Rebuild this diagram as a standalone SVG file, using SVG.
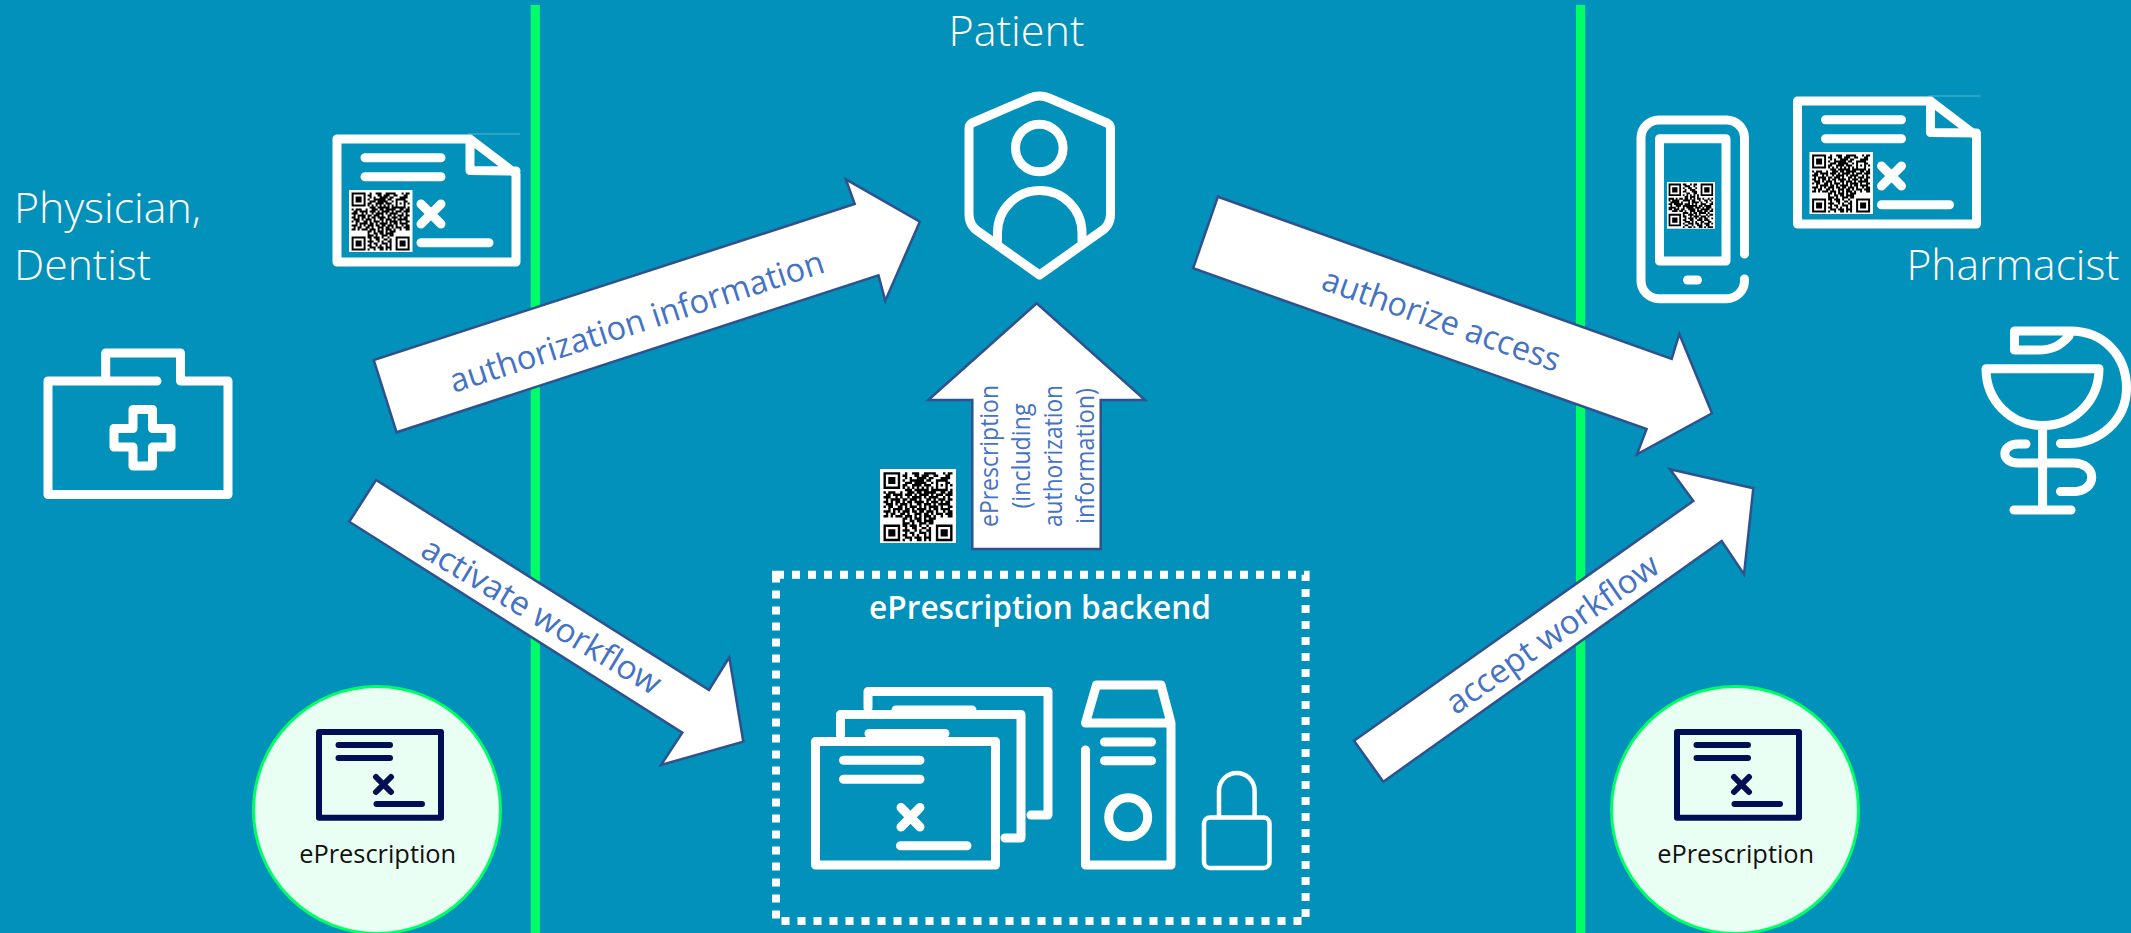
<svg xmlns="http://www.w3.org/2000/svg" width="2131" height="933" viewBox="0 0 2131 933">
<style>
text{font-family:"Open Sans","Noto Sans","Liberation Sans",sans-serif}
.ic{fill:none;stroke:#fff;stroke-width:9;stroke-linejoin:round;stroke-linecap:round}
.nv{fill:none;stroke:#000f55;stroke-width:6;stroke-linejoin:round;stroke-linecap:round}
.big{fill:#fff;font-size:43px;font-weight:300}
.arrow{fill:#fff;stroke:#2f528f;stroke-width:2.5}
.lbl{fill:#4472c4;font-size:33px;text-anchor:middle}
.vl{fill:#4472c4;font-size:26px;text-anchor:middle}
.sep{fill:#00ff66}
.circ{fill:#eafff3;stroke:#00ff66;stroke-width:3}
.cap{fill:#111;font-size:25px;text-anchor:middle}
.qr{fill:none;stroke:#000;stroke-width:1.02}
</style>
<defs>
<path id="qa" class="qr" d="M0 .5h7M9 .5h1M12 .5h3M17 .5h5M25 .5h1M27 .5h2M0 1.5h1M6 1.5h1M8 1.5h2M13 1.5h2M16 1.5h3M21 1.5h2M26 1.5h2M0 2.5h1M2 2.5h3M6 2.5h1M9 2.5h1M11 2.5h1M14 2.5h4M19 2.5h2M24 2.5h4M0 3.5h1M2 3.5h3M6 3.5h1M8 3.5h1M11 3.5h6M18 3.5h2M22 3.5h5M0 4.5h1M2 4.5h3M6 4.5h1M9 4.5h3M13 4.5h5M20 4.5h1M22 4.5h1M26 4.5h2M0 5.5h1M6 5.5h1M8 5.5h2M12 5.5h4M17 5.5h3M22 5.5h1M24 5.5h1M26 5.5h1M28 5.5h1M0 6.5h7M8 6.5h1M10 6.5h1M12 6.5h1M14 6.5h1M16 6.5h1M18 6.5h1M20 6.5h1M22 6.5h1M26 6.5h1M9 7.5h3M13 7.5h6M20 7.5h2M22 7.5h5M28 7.5h1M0 8.5h1M2 8.5h3M7 8.5h1M10 8.5h3M14 8.5h2M17 8.5h5M24 8.5h2M27 8.5h2M1 9.5h2M4 9.5h4M9 9.5h3M13 9.5h1M15 9.5h4M20 9.5h1M22 9.5h3M26 9.5h3M0 10.5h3M5 10.5h1M7 10.5h1M10 10.5h1M12 10.5h4M17 10.5h1M19 10.5h4M25 10.5h1M27 10.5h1M1 11.5h1M3 11.5h4M8 11.5h2M11 11.5h3M15 11.5h1M18 11.5h2M21 11.5h1M23 11.5h3M27 11.5h2M0 12.5h2M3 12.5h1M5 12.5h2M8 12.5h1M10 12.5h2M13 12.5h4M18 12.5h1M20 12.5h3M24 12.5h1M26 12.5h2M1 13.5h3M5 13.5h1M7 13.5h3M11 13.5h1M14 13.5h2M17 13.5h3M21 13.5h1M23 13.5h5M0 14.5h1M2 14.5h2M6 14.5h2M9 14.5h1M11 14.5h3M15 14.5h1M17 14.5h1M19 14.5h4M24 14.5h1M27 14.5h2M2 15.5h1M4 15.5h4M9 15.5h2M12 15.5h1M14 15.5h4M19 15.5h1M21 15.5h2M24 15.5h4M0 16.5h3M4 16.5h1M6 16.5h1M8 16.5h3M12 16.5h2M15 16.5h2M18 16.5h3M22 16.5h1M25 16.5h1M27 16.5h2M1 17.5h1M3 17.5h2M7 17.5h2M10 17.5h1M13 17.5h3M17 17.5h2M20 17.5h1M22 17.5h3M26 17.5h3M0 18.5h2M3 18.5h1M5 18.5h3M9 18.5h3M13 18.5h1M15 18.5h1M17 18.5h3M21 18.5h1M24 18.5h1M27 18.5h2M8 19.5h2M11 19.5h1M13 19.5h3M17 19.5h1M19 19.5h3M8 20.5h1M11 20.5h2M14 20.5h2M17 20.5h4M8 21.5h3M12 21.5h1M15 21.5h3M19 21.5h2M0 22.5h7M8 22.5h2M11 22.5h3M15 22.5h1M18 22.5h1M22 22.5h7M0 23.5h1M6 23.5h1M9 23.5h1M12 23.5h2M16 23.5h2M19 23.5h1M22 23.5h1M28 23.5h1M0 24.5h1M2 24.5h3M6 24.5h1M8 24.5h3M13 24.5h1M15 24.5h1M18 24.5h2M22 24.5h1M24 24.5h3M28 24.5h1M0 25.5h1M2 25.5h3M6 25.5h1M9 25.5h1M11 25.5h2M15 25.5h3M19 25.5h1M22 25.5h1M24 25.5h3M28 25.5h1M0 26.5h1M2 26.5h3M6 26.5h1M8 26.5h2M12 26.5h1M14 26.5h1M17 26.5h1M19 26.5h1M22 26.5h1M24 26.5h3M28 26.5h1M0 27.5h1M6 27.5h1M9 27.5h3M13 27.5h3M17 27.5h3M22 27.5h1M28 27.5h1M0 28.5h7M8 28.5h1M11 28.5h1M14 28.5h2M17 28.5h1M19 28.5h1M22 28.5h7"/>
<path id="qb" class="qr" d="M0 .5h7M8 .5h2M12 .5h1M14 .5h2M18 .5h7M0 1.5h1M6 1.5h1M9 1.5h3M14 1.5h1M18 1.5h1M24 1.5h1M0 2.5h1M2 2.5h3M6 2.5h1M8 2.5h1M11 2.5h2M15 2.5h1M18 2.5h1M20 2.5h3M24 2.5h1M0 3.5h1M2 3.5h3M6 3.5h1M9 3.5h1M12 3.5h2M14 3.5h1M18 3.5h1M20 3.5h3M24 3.5h1M0 4.5h1M2 4.5h3M6 4.5h1M8 4.5h2M13 4.5h3M18 4.5h1M20 4.5h3M24 4.5h1M0 5.5h1M6 5.5h1M10 5.5h2M14 5.5h2M18 5.5h1M24 5.5h1M0 6.5h7M8 6.5h1M10 6.5h1M12 6.5h1M14 6.5h1M16 6.5h1M18 6.5h7M9 7.5h2M12 7.5h3M16 7.5h1M0 8.5h3M4 8.5h1M6 8.5h2M9 8.5h2M12 8.5h1M14 8.5h1M16 8.5h2M19 8.5h1M22 8.5h1M24 8.5h1M0 9.5h1M2 9.5h4M8 9.5h4M13 9.5h2M17 9.5h1M20 9.5h2M23 9.5h1M1 10.5h5M7 10.5h1M11 10.5h1M13 10.5h4M18 10.5h1M21 10.5h1M24 10.5h1M0 11.5h2M3 11.5h5M9 11.5h3M13 11.5h1M15 11.5h1M18 11.5h3M23 11.5h2M1 12.5h1M4 12.5h3M8 12.5h8M17 12.5h2M20 12.5h4M0 13.5h4M5 13.5h1M8 13.5h1M10 13.5h4M15 13.5h3M19 13.5h1M21 13.5h3M0 14.5h2M3 14.5h3M7 14.5h2M11 14.5h4M16 14.5h1M18 14.5h5M24 14.5h1M2 15.5h3M6 15.5h2M9 15.5h1M12 15.5h3M16 15.5h3M20 15.5h2M23 15.5h2M8 16.5h3M12 16.5h1M14 16.5h2M17 16.5h4M22 16.5h1M0 17.5h7M8 17.5h1M11 17.5h3M15 17.5h1M17 17.5h1M21 17.5h1M23 17.5h2M0 18.5h1M6 18.5h1M8 18.5h2M12 18.5h1M14 18.5h3M18 18.5h3M22 18.5h1M0 19.5h1M2 19.5h3M6 19.5h1M9 19.5h1M11 19.5h3M15 19.5h1M17 19.5h2M20 19.5h2M24 19.5h1M0 20.5h1M2 20.5h3M6 20.5h1M8 20.5h2M12 20.5h2M16 20.5h3M20 20.5h3M0 21.5h1M2 21.5h3M6 21.5h1M9 21.5h3M13 21.5h1M15 21.5h1M18 21.5h2M22 21.5h2M0 22.5h1M6 22.5h1M8 22.5h1M11 22.5h3M15 22.5h2M18 22.5h1M20 22.5h3M24 22.5h1M0 23.5h7M9 23.5h2M13 23.5h1M16 23.5h3M21 23.5h2M8 24.5h1M11 24.5h2M14 24.5h1M17 24.5h2M20 24.5h1M22 24.5h3"/>
<g id="rx">
<path class="ic" d="M516 174V262H337V139H470ZM470 139V170.5L516 171" stroke-linecap="butt"/>
<path class="ic" d="M365 157.7H441M365 176.7H441M421 204L441 224M441 204L421 224M421 242.7H489"/>
<line x1="468" y1="134" x2="520" y2="134" stroke="#fff" stroke-opacity=".35"/>
<rect x="349" y="190" width="63.5" height="62" fill="#fff"/>
<use href="#qa" transform="translate(351.6 192.4) scale(2)"/>
</g>
<g id="mini">
<rect class="nv" x="319" y="732" width="122" height="85.7"/>
<path class="nv" d="M338.5 745H390M338.5 758H390M376 777L391 792M391 777L376 792M376.5 804H422"/>
</g>
</defs>
<rect width="2131" height="933" fill="#0291ba"/>
<rect class="sep" x="530.7" y="5" width="9.2" height="928"/>
<rect class="sep" x="1576" y="5" width="9.2" height="928"/>

<g id="physician">
<text class="big" x="14" y="222.7" textLength="187" lengthAdjust="spacingAndGlyphs">Physician,</text>
<text class="big" x="14" y="280" textLength="137" lengthAdjust="spacingAndGlyphs">Dentist</text>
<path class="ic" d="M157 381H48V494.5H228V381H180.5V353H105.7V381"/>
<path class="ic" d="M133 409.5H152.5V428.5H171V447H152.5V466H133V447H114V428.5H133Z"/>
<use href="#rx"/>
</g>

<g id="eprescription-left">
<circle class="circ" cx="377" cy="810" r="123.5"/>
<use href="#mini"/>
<text class="cap" x="377.7" y="862.7" textLength="157" lengthAdjust="spacingAndGlyphs">ePrescription</text>
</g>

<g id="eprescription-right">
<circle class="circ" cx="1735" cy="810" r="123.5"/>
<use href="#mini" transform="translate(1358 0)"/>
<text class="cap" x="1735.7" y="862.7" textLength="157" lengthAdjust="spacingAndGlyphs">ePrescription</text>
</g>

<g id="patient">
<text class="big" x="1016.5" y="46" text-anchor="middle" textLength="136" lengthAdjust="spacingAndGlyphs">Patient</text>
<path class="ic" d="M1030 98Q1039.5 94 1049 98L1107 123Q1110.5 125 1110.5 128V214Q1110.5 226 1100 232L1039.5 275L979 232Q969 226 969 214V128Q969 125 972 123Z"/>
<circle class="ic" cx="1039.3" cy="148" r="23.8"/>
<path class="ic" stroke-linecap="butt" d="M997.5 241V232.7A42.2 42.2 0 0 1 1082 232.7V241"/>
</g>

<g id="qr-standalone">
<rect x="880" y="469" width="76" height="74" fill="#fff"/>
<use href="#qa" transform="translate(883.5 472.2) scale(2.38)"/>
</g>

<g id="backend">
<rect x="776" y="574.7" width="529.6" height="346.3" fill="none" stroke="#fff" stroke-width="8" stroke-dasharray="8 8"/>
<text x="1040" y="619" text-anchor="middle" font-size="32" font-weight="600" fill="#fff" textLength="342" lengthAdjust="spacingAndGlyphs">ePrescription backend</text>
<path class="ic" d="M868 708V691.5H1048V815H1031" stroke-linecap="butt"/>
<path class="ic" d="M896 710H972"/>
<path class="ic" d="M840.5 735V714.5H1021V838H1005" stroke-linecap="butt"/>
<path class="ic" d="M869 733.5H945"/>
<rect class="ic" x="815.5" y="741.5" width="180" height="123.5"/>
<path class="ic" d="M843.5 760.3H920M843.5 779.3H920M901 807.5L920 827M920 807.5L901 827M900.5 845.7H967"/>
<path class="ic" d="M1085.5 723L1096.5 685H1161L1171 723ZM1171 723V865H1085.5V750M1104.5 742H1151.5M1104.5 760.7H1151.5"/>
<circle class="ic" cx="1128.2" cy="817.3" r="19.5"/>
<rect class="ic" style="stroke-width:4.5" x="1204" y="817.5" width="65.5" height="50.5" rx="6"/>
<path class="ic" style="stroke-width:4.5" d="M1219 817V791A17.8 18 0 0 1 1254.6 791V817"/>
</g>

<g id="pharmacist">
<text class="big" x="1906.5" y="280" textLength="213" lengthAdjust="spacingAndGlyphs">Pharmacist</text>
<path class="ic" d="M1744.5 254V138A18 18 0 0 0 1726.5 120H1659A18 18 0 0 0 1641 138V280.7A18 18 0 0 0 1659 298.7H1726.5A18 18 0 0 0 1744.5 280.7V279"/>
<rect class="ic" x="1659.5" y="138.7" width="66.5" height="122.3"/>
<path class="ic" d="M1687.5 280H1697.5"/>
<rect x="1667" y="182" width="48" height="46.7" fill="#fff"/>
<use href="#qb" transform="translate(1668.6 183.6) scale(1.78)"/>
<use href="#rx" transform="translate(1460.5 -38)"/>
<path class="ic" d="M1986 368.7H2099C2099 400 2075 425.5 2042.5 425.5C2010 425.5 1986 400 1986 368.7ZM2042.6 430V510M2014 510H2071"/>
<path class="ic" d="M2069 336C2060 346 2052 350 2038 350H2014.5V331H2070C2105 331 2126.5 357 2126.5 388C2126.5 420 2100 443.5 2068 443.5H2060.5"/>
<path class="ic" d="M2026 444H2018C2001 444 2000 463 2018 463H2073C2098 463 2098 491.5 2073 491.5H2060.5"/>
</g>

<g id="connectors">
<polygon class="arrow" points="373.7,360 396.6,432.3 878.5,275.3 885.3,300.7 919.8,221.7 845.9,179.3 854.7,204"/>
<text class="lbl" transform="translate(637 323) rotate(-18)" y="10" textLength="392" lengthAdjust="spacingAndGlyphs">authorization information</text>
<polygon class="arrow" points="376,480 349.3,521.7 682.3,732.7 661,765 743.3,741.7 729.3,657.3 709,690"/>
<text class="lbl" transform="translate(541 617) rotate(31)" y="10" textLength="273" lengthAdjust="spacingAndGlyphs">activate workflow</text>
<polygon class="arrow" points="1217.9,196.7 1193.1,268.3 1646.6,429 1637,454.3 1712,413.3 1679.3,334 1671.7,359"/>
<text class="lbl" transform="translate(1441 321) rotate(19.5)" y="10" textLength="250" lengthAdjust="spacingAndGlyphs">authorize access</text>
<polygon class="arrow" points="1354,740.7 1383.3,781.7 1721.7,541 1744,574.3 1753.3,488.3 1670,469.3 1693.3,501"/>
<text class="lbl" transform="translate(1553 635) rotate(-35)" y="10" textLength="252" lengthAdjust="spacingAndGlyphs">accept workflow</text>
<polygon class="arrow" points="1036.7,303.3 1145,400 1100.7,400 1100.7,549 972.3,549 972.3,400 928.3,400"/>
<g id="up-arrow-label">
<text class="vl" transform="translate(997.7 456) rotate(-90)" textLength="142" lengthAdjust="spacingAndGlyphs">ePrescription</text>
<text class="vl" transform="translate(1030 456) rotate(-90)" textLength="105" lengthAdjust="spacingAndGlyphs">(including</text>
<text class="vl" transform="translate(1062 456) rotate(-90)" textLength="142" lengthAdjust="spacingAndGlyphs">authorization</text>
<text class="vl" transform="translate(1094 456) rotate(-90)" textLength="136" lengthAdjust="spacingAndGlyphs">information)</text>
</g>
</g>
</svg>
